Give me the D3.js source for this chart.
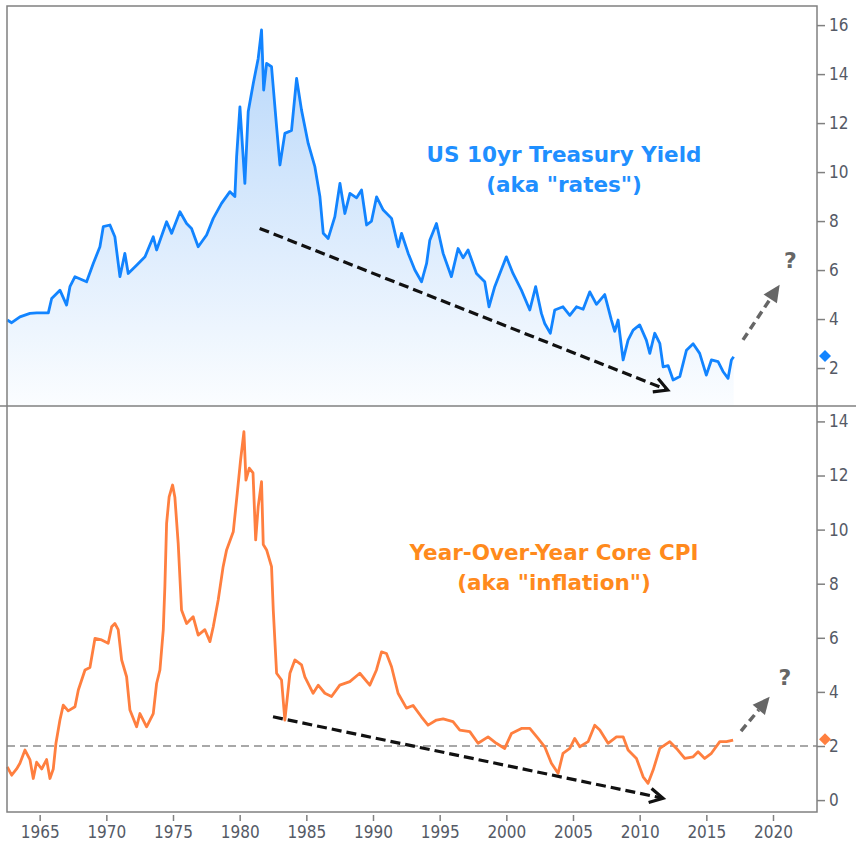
<!DOCTYPE html>
<html lang="en">
<head>
    <meta charset="UTF-8">
    <title>Rates vs Inflation</title>
    <style>
        body { margin: 0; background: #fff; }
        svg { display: block; }
        .tick text { font-family: "DejaVu Sans Condensed", "DejaVu Sans", sans-serif; font-size: 17px; fill: #555a66; }
        .tick line { stroke: #808080; stroke-width: 1.5; }
        .title { font-family: "DejaVu Sans", sans-serif; font-weight: bold; text-anchor: middle; }
    </style>
    <script src="https://d3js.org/d3.v7.min.js"></script>
</head>
<body>
<div id="chart"></div>
<script>
// US 10yr treasury yield (year, percent)
const rateYears = [1962.57, 1962.9, 1963.52, 1964.27, 1964.78, 1965.65, 1965.9, 1966.52, 1967.02, 1967.27, 1967.65, 1968.52, 1969.02, 1969.52, 1969.77, 1970.27, 1970.64, 1971.02, 1971.39, 1971.64, 1972.27, 1972.9, 1973.52, 1973.77, 1974.52, 1974.9, 1975.52, 1976.02, 1976.39, 1976.89, 1977.52, 1978.02, 1978.64, 1979.27, 1979.64, 1979.77, 1980.02, 1980.39, 1980.64, 1981.02, 1981.39, 1981.64, 1981.8, 1982.02, 1982.39, 1982.77, 1983.02, 1983.39, 1983.89, 1984.27, 1984.64, 1985.14, 1985.64, 1986.02, 1986.27, 1986.64, 1987.14, 1987.52, 1987.89, 1988.27, 1988.77, 1989.14, 1989.52, 1989.89, 1990.27, 1990.77, 1991.39, 1991.89, 1992.14, 1992.64, 1993.14, 1993.64, 1994.02, 1994.26, 1994.76, 1995.26, 1995.88, 1996.38, 1996.76, 1997.13, 1997.76, 1998.38, 1998.7, 1999.13, 2000.0, 2000.5, 2001.13, 2001.76, 2002.2, 2002.63, 2002.88, 2003.3, 2003.63, 2004.25, 2004.76, 2005.26, 2005.76, 2006.26, 2006.76, 2007.38, 2007.88, 2008.13, 2008.38, 2008.76, 2009.13, 2009.51, 2010.0, 2010.5, 2010.76, 2011.13, 2011.51, 2011.76, 2012.13, 2012.51, 2013.01, 2013.51, 2014.01, 2014.5, 2015.0, 2015.38, 2015.88, 2016.25, 2016.63, 2016.88, 2017.05];
const rateValues = [3.96, 3.85, 4.09, 4.23, 4.25, 4.25, 4.84, 5.18, 4.57, 5.32, 5.73, 5.52, 6.27, 6.95, 7.77, 7.84, 7.36, 5.73, 6.68, 5.86, 6.2, 6.54, 7.36, 6.82, 7.97, 7.5, 8.38, 7.9, 7.7, 6.95, 7.43, 8.11, 8.72, 9.2, 9.0, 10.62, 12.66, 9.54, 12.46, 13.62, 14.64, 15.8, 13.35, 14.44, 14.3, 11.85, 10.29, 11.58, 11.7, 13.82, 12.53, 11.17, 10.22, 8.99, 7.5, 7.29, 8.18, 9.54, 8.31, 9.13, 8.95, 9.27, 7.84, 8.0, 8.99, 8.45, 8.11, 6.95, 7.5, 6.68, 6.0, 5.52, 6.27, 7.22, 7.9, 6.68, 5.73, 6.88, 6.5, 6.82, 5.86, 5.52, 4.5, 5.32, 6.54, 5.86, 5.18, 4.37, 5.32, 4.23, 3.82, 3.42, 4.37, 4.5, 4.15, 4.5, 4.4, 5.11, 4.6, 5.0, 3.96, 3.5, 3.96, 2.33, 3.14, 3.55, 3.76, 3.14, 2.6, 3.42, 3.01, 2.05, 2.1, 1.51, 1.65, 2.73, 2.99, 2.6, 1.71, 2.33, 2.26, 1.86, 1.58, 2.33, 2.46];

// year-over-year core CPI
const cpiYears = [1962.57, 1962.9, 1963.27, 1963.52, 1963.9, 1964.27, 1964.52, 1964.77, 1965.15, 1965.52, 1965.77, 1966.02, 1966.22, 1966.52, 1966.77, 1967.14, 1967.65, 1967.9, 1968.4, 1968.77, 1969.15, 1969.65, 1970.14, 1970.4, 1970.64, 1970.89, 1971.15, 1971.52, 1971.77, 1972.27, 1972.52, 1973.02, 1973.52, 1973.77, 1974.02, 1974.27, 1974.39, 1974.52, 1974.71, 1974.97, 1975.14, 1975.39, 1975.64, 1976.02, 1976.51, 1976.89, 1977.39, 1977.77, 1978.02, 1978.39, 1978.76, 1979.02, 1979.52, 1979.82, 1980.07, 1980.32, 1980.47, 1980.72, 1981.0, 1981.2, 1981.39, 1981.64, 1981.77, 1982.02, 1982.39, 1982.52, 1982.77, 1983.14, 1983.39, 1983.77, 1984.14, 1984.64, 1984.89, 1985.51, 1985.89, 1986.39, 1986.89, 1987.51, 1988.26, 1989.01, 1989.76, 1990.26, 1990.64, 1991.01, 1991.39, 1991.88, 1992.51, 1993.0, 1993.63, 1994.13, 1994.76, 1995.26, 1996.0, 1996.51, 1997.26, 1997.88, 1998.63, 1999.25, 1999.88, 2000.38, 2001.13, 2001.76, 2002.38, 2002.88, 2003.38, 2003.88, 2004.25, 2004.76, 2005.13, 2005.51, 2006.13, 2006.63, 2007.01, 2007.63, 2008.26, 2008.76, 2009.13, 2009.76, 2010.26, 2010.63, 2011.01, 2011.51, 2012.26, 2012.76, 2013.38, 2014.01, 2014.38, 2014.88, 2015.38, 2016.01, 2016.51, 2017.01];
const cpiValues = [1.23, 0.92, 1.15, 1.36, 1.85, 1.5, 0.8, 1.4, 1.15, 1.5, 0.8, 1.15, 2.1, 2.96, 3.51, 3.3, 3.45, 4.07, 4.81, 4.9, 5.98, 5.92, 5.8, 6.41, 6.53, 6.3, 5.18, 4.56, 3.33, 2.71, 3.2, 2.71, 3.2, 4.31, 4.81, 6.29, 7.89, 10.23, 11.21, 11.65, 11.2, 9.49, 7.03, 6.53, 6.78, 6.1, 6.3, 5.86, 6.41, 7.4, 8.63, 9.25, 9.92, 11.35, 12.58, 13.62, 11.83, 12.27, 12.1, 9.62, 10.85, 11.77, 9.45, 9.25, 8.63, 7.03, 4.69, 4.44, 2.96, 4.69, 5.18, 5.0, 4.56, 3.95, 4.25, 3.95, 3.83, 4.25, 4.38, 4.69, 4.25, 4.81, 5.48, 5.42, 4.93, 3.95, 3.4, 3.5, 3.08, 2.77, 2.96, 3.0, 2.9, 2.59, 2.53, 2.1, 2.34, 2.1, 1.91, 2.46, 2.65, 2.65, 2.28, 1.97, 1.36, 0.99, 1.73, 1.91, 2.28, 1.97, 2.16, 2.77, 2.59, 2.1, 2.34, 2.34, 1.85, 1.54, 0.86, 0.62, 1.11, 1.91, 2.16, 1.91, 1.54, 1.6, 1.79, 1.54, 1.73, 2.16, 2.16, 2.22];

const yearTicks = [1965, 1970, 1975, 1980, 1985, 1990, 1995, 2000, 2005, 2010, 2015, 2020];
const rateTicks = [2, 4, 6, 8, 10, 12, 14, 16];
const cpiTicks = [0, 2, 4, 6, 8, 10, 12, 14];

const rateLast = 2.49;   // diamond on the right axis
const cpiLast = 2.25;
const cpiTarget = 2;

// annotation arrows, [year, value]
const rateTrend = [[1981.5, 7.7], [2012.1, 1.1]];
const rateGuess = [[2017.75, 3.15], [2020.5, 5.4]];
const rateQuestion = [2021.3, 6.4];
const cpiTrend = [[1982.5, 3.08], [2011.75, 0.07]];
const cpiGuess = [[2017.6, 2.55], [2019.75, 3.82]];
const cpiQuestion = [2020.9, 4.55];

const W = 856, H = 844;
const padL = 7, padR = 817, padT = 6, midY = 406, padB = 812;

const blue = "#1284ff", orange = "#ff7f3f";

const svg = d3.select("#chart").append("svg")
    .attr("width", W)
    .attr("height", H);

const x = d3.scaleLinear().domain([1962.55, 2023.3]).range([padL, padR]);
const yTop = d3.scaleLinear().domain([0.45, 16.78]).range([midY, padT]);
const yBot = d3.scaleLinear().domain([-0.44, 14.57]).range([padB, midY]);

const rates = rateYears.map((d, i) => [d, rateValues[i]]);
const cpi = cpiYears.map((d, i) => [d, cpiValues[i]]);

// gradient under the yield line
const defs = svg.append("defs");
const grad = defs.append("linearGradient")
    .attr("id", "rateFill")
    .attr("gradientUnits", "userSpaceOnUse")
    .attr("x1", 0).attr("y1", yTop(16)).attr("x2", 0).attr("y2", midY);
grad.append("stop").attr("offset", 0).attr("stop-color", "#b6d6fa");
grad.append("stop").attr("offset", 1).attr("stop-color", "#fbfdff");

svg.append("path")
    .datum(rates)
    .attr("fill", "url(#rateFill)")
    .attr("d", d3.area().x(d => x(d[0])).y0(midY).y1(d => yTop(d[1])));

svg.append("path")
    .datum(rates)
    .attr("fill", "none")
    .attr("stroke", blue)
    .attr("stroke-width", 2.8)
    .attr("stroke-linejoin", "round")
    .attr("d", d3.line().x(d => x(d[0])).y(d => yTop(d[1])));

// 2% line in the lower panel
svg.append("line")
    .attr("x1", padL).attr("x2", padR)
    .attr("y1", yBot(cpiTarget)).attr("y2", yBot(cpiTarget))
    .attr("stroke", "#8c8c8c")
    .attr("stroke-width", 1.5)
    .attr("stroke-dasharray", "8,5");

svg.append("path")
    .datum(cpi)
    .attr("fill", "none")
    .attr("stroke", orange)
    .attr("stroke-width", 2.8)
    .attr("stroke-linejoin", "round")
    .attr("d", d3.line().x(d => x(d[0])).y(d => yBot(d[1])));

// frames
svg.append("rect")
    .attr("x", padL).attr("y", padT)
    .attr("width", padR - padL).attr("height", padB - padT)
    .attr("fill", "none")
    .attr("stroke", "#808080")
    .attr("stroke-width", 1.5);
svg.append("line")
    .attr("x1", 0).attr("x2", W)
    .attr("y1", midY).attr("y2", midY)
    .attr("stroke", "#808080")
    .attr("stroke-width", 1.5);

// axes
const axTop = svg.append("g")
    .attr("transform", "translate(" + padR + ",0)")
    .call(d3.axisRight(yTop).tickValues(rateTicks).tickSize(8).tickPadding(4));
const axBot = svg.append("g")
    .attr("transform", "translate(" + padR + ",0)")
    .call(d3.axisRight(yBot).tickValues(cpiTicks).tickSize(8).tickPadding(4));
const axX = svg.append("g")
    .attr("transform", "translate(0," + (padB + 3) + ")")
    .call(d3.axisBottom(x).tickValues(yearTicks).tickFormat(d3.format("d")).tickSize(6).tickPadding(5));
[axTop, axBot, axX].forEach(g => g.select(".domain").remove());

// diamonds at the latest value
function diamond(yv, color) {
    const cx = padR + 8, s = 6;
    svg.append("path")
        .attr("d", `M${cx},${yv - s}L${cx + s},${yv}L${cx},${yv + s}L${cx - s},${yv}Z`)
        .attr("fill", color);
}
diamond(yTop(rateLast), blue);
diamond(yBot(cpiLast), orange);

// arrows
function trendArrow(pts, ys) {
    const x1 = x(pts[0][0]), y1 = ys(pts[0][1]), x2 = x(pts[1][0]), y2 = ys(pts[1][1]);
    const a = Math.atan2(y2 - y1, x2 - x1);
    svg.append("line")
        .attr("x1", x1).attr("y1", y1).attr("x2", x2 - 3 * Math.cos(a)).attr("y2", y2 - 3 * Math.sin(a))
        .attr("stroke", "#111")
        .attr("stroke-width", 3.2)
        .attr("stroke-dasharray", "10,5");
    const L = 15, sp = 0.5;
    svg.append("path")
        .attr("d", `M${x2 - L * Math.cos(a - sp)},${y2 - L * Math.sin(a - sp)}L${x2},${y2}L${x2 - L * Math.cos(a + sp)},${y2 - L * Math.sin(a + sp)}`)
        .attr("fill", "none")
        .attr("stroke", "#111")
        .attr("stroke-width", 3.2);
}
function guessArrow(pts, q, ys) {
    const x1 = x(pts[0][0]), y1 = ys(pts[0][1]), x2 = x(pts[1][0]), y2 = ys(pts[1][1]);
    const a = Math.atan2(y2 - y1, x2 - x1);
    const L = 17, hw = 8;
    const bx = x2 - L * Math.cos(a), by = y2 - L * Math.sin(a);
    svg.append("line")
        .attr("x1", x1).attr("y1", y1).attr("x2", bx).attr("y2", by)
        .attr("stroke", "#666")
        .attr("stroke-width", 3.5)
        .attr("stroke-dasharray", "8,5");
    svg.append("path")
        .attr("d", `M${x2},${y2}L${bx + hw * Math.sin(a)},${by - hw * Math.cos(a)}L${bx - hw * Math.sin(a)},${by + hw * Math.cos(a)}Z`)
        .attr("fill", "#666");
    svg.append("text")
        .attr("x", x(q[0])).attr("y", ys(q[1]) + 8)
        .attr("text-anchor", "middle")
        .attr("font-family", "DejaVu Sans, sans-serif")
        .attr("font-weight", "bold")
        .attr("font-size", 22)
        .attr("fill", "#666")
        .text("?");
}
trendArrow(rateTrend, yTop);
trendArrow(cpiTrend, yBot);
guessArrow(rateGuess, rateQuestion, yTop);
guessArrow(cpiGuess, cpiQuestion, yBot);

// titles
const t1 = svg.append("text").attr("class", "title").attr("fill", "#1f8fff").attr("font-size", 21.5);
t1.append("tspan").attr("x", 564).attr("y", 162).text("US 10yr Treasury Yield");
t1.append("tspan").attr("x", 564).attr("y", 192).text('(aka "rates")');

const t2 = svg.append("text").attr("class", "title").attr("fill", "#ff8a1c").attr("font-size", 21.5);
t2.append("tspan").attr("x", 554).attr("y", 560).text("Year-Over-Year Core CPI");
t2.append("tspan").attr("x", 554).attr("y", 590).text('(aka "inflation")');
</script>
</body>
</html>
